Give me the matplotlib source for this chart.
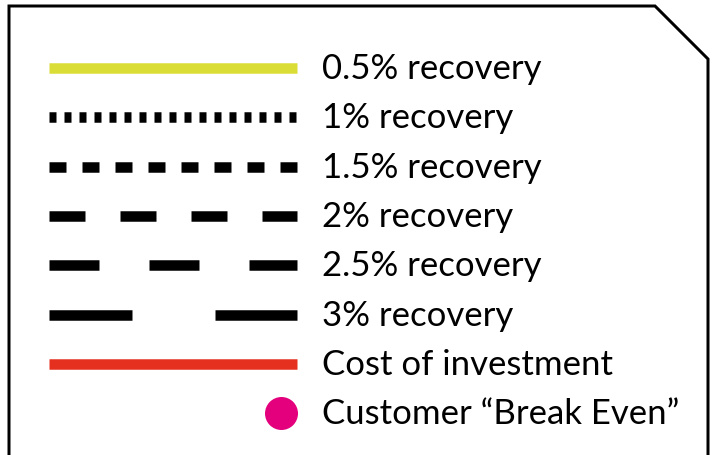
import matplotlib
matplotlib.use("Agg")
import matplotlib.pyplot as plt
from matplotlib.transforms import IdentityTransform

plt.rcParams['font.family'] = ['Lato', 'DejaVu Sans']
plt.rcParams['lines.scale_dashes'] = False

# legend entries
labels = ["0.5% recovery", "1% recovery", "1.5% recovery", "2% recovery",
          "2.5% recovery", "3% recovery", "Cost of investment",
          "Customer \u201cBreak Even\u201d"]
colors = ["#d9dd36", "black", "black", "black", "black", "black", "#e5301f", "#e4007c"]
# dash patterns in pixels (on, off); None = solid
dashes_px = [None, (7, 8), (17, 16), (36, 35), (50, 50), (83, 83), None, None]
kinds = ["line"] * 7 + ["dot"]

W, H, DPI = 714, 455, 100
px = 72 / DPI  # pixel -> points

fig = plt.figure(figsize=(W / DPI, H / DPI), dpi=DPI)
ax = fig.add_axes([0, 0, 1, 1])

# handle spans 0..1 in x, rows are 0..n-1 in y
x0, hlen = 49, 248
y0, rowh = 68, 49.3
ax.set_xlim(-x0 / hlen, (W - x0) / hlen)
ax.set_ylim((H - y0) / rowh, -y0 / rowh)
ax.axis("off")

for i, (lab, c, d, k) in enumerate(zip(labels, colors, dashes_px, kinds)):
    if k == "line":
        ln, = ax.plot([0, 1], [i, i], color=c, lw=10.5 * px, solid_capstyle="butt",
                      dash_capstyle="butt")
        if d is not None:
            ln.set_linestyle((0, (d[0] * px, d[1] * px)))
    else:
        r = 16.5 / hlen
        ax.plot([1 - r], [i], "o", color=c, ms=33 * px, mec="none")
    ax.annotate(lab, (1, i), xytext=(25, -11), textcoords="offset pixels",
                fontsize=25, va="baseline", ha="left", color="black")

# frame with clipped top-right corner (pixel coords, y from top)
bx = [9, 9, 655, 708, 708]
by = [H + 5, 6, 6, 59, H + 5]
frame = plt.Line2D(bx, [H - v for v in by], color="black", lw=3 * px,
                   transform=IdentityTransform(), solid_joinstyle="miter")
fig.add_artist(frame)

fig.savefig("out.png", dpi=DPI)
